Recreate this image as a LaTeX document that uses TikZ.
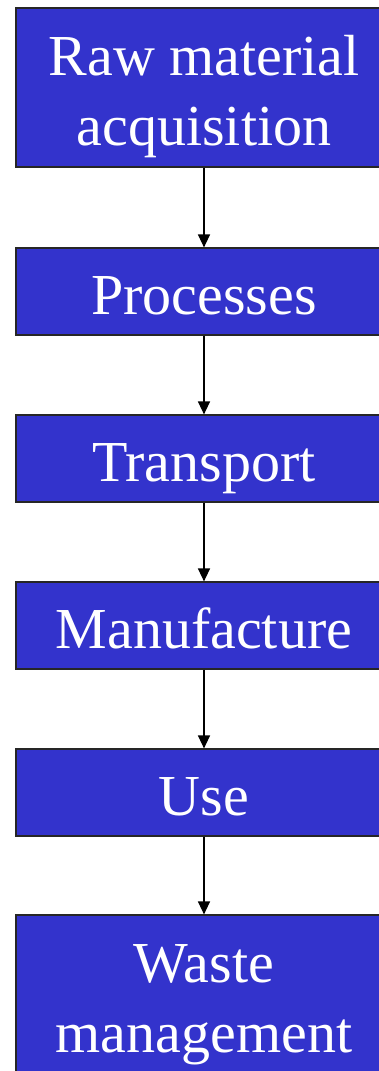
\documentclass[tikz,border=0pt]{standalone}
\usepackage{fontspec}
\setmainfont{Liberation Serif}
\usetikzlibrary{arrows.meta}
\definecolor{boxblue}{HTML}{3333CC}
\begin{document}
\begin{tikzpicture}[x=1pt,y=-1pt,
  stagebox/.style={draw=black!85,line width=1.2pt,fill=boxblue,text=white,
    minimum width=376pt,inner sep=0pt,align=center,
    font=\fontsize{58}{70}\selectfont},
  onebox/.style={stagebox,minimum height=87pt,text height=52pt,text depth=7pt},
  twobox/.style={stagebox,minimum height=159pt,text height=122pt,text depth=7pt},
  flow/.style={line width=1.4pt,-{Triangle[width=12pt,length=13pt]}}]
\useasboundingbox (0,0) rectangle (379,1071);
\clip (0,0) rectangle (379,1071);
\node[twobox] (raw) at (204,87.5) {Raw material\\acquisition};
\node[onebox] (proc) at (204,291.5) {Processes};
\node[onebox] (trans) at (204,458.5) {Transport};
\node[onebox] (manu) at (204,625.5) {Manufacture};
\node[onebox] (use) at (204,792.5) {Use};
\node[twobox] (waste) at (204,994.5) {Waste\\management};
\draw[flow] (raw) -- (proc);
\draw[flow] (proc) -- (trans);
\draw[flow] (trans) -- (manu);
\draw[flow] (manu) -- (use);
\draw[flow] (use) -- (waste);
\end{tikzpicture}
\end{document}
